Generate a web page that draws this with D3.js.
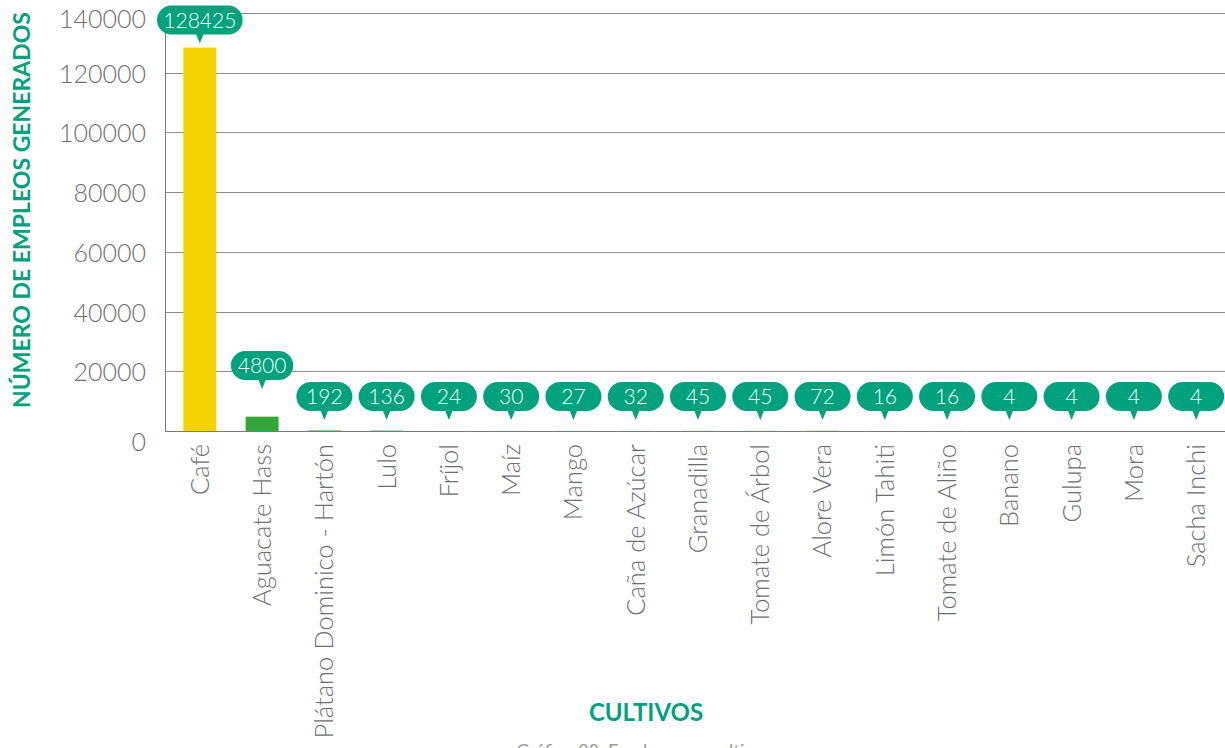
<!DOCTYPE html>
<html>
<head>
<meta charset="utf-8">
<script src="https://cdn.jsdelivr.net/npm/d3@7"></script>
<style>
  html, body { margin: 0; padding: 0; background: #fff; }
  svg { display: block; font-family: Lato, "Open Sans", sans-serif; }
</style>
</head>
<body>
<svg id="chart" width="1225" height="748"></svg>
<script>
// Empleos generados por cultivo
const cultivos = ["Café", "Aguacate Hass", "Plátano Dominico - Hartón", "Lulo", "Fríjol", "Maíz", "Mango",
  "Caña de Azúcar", "Granadilla", "Tomate de Árbol", "Alore Vera", "Limón Tahiti", "Tomate de Aliño",
  "Banano", "Gulupa", "Mora", "Sacha Inchi"];
const empleos = [128425, 4800, 192, 136, 24, 30, 27, 32, 45, 45, 72, 16, 16, 4, 4, 4, 4];
const yTicks = [0, 20000, 40000, 60000, 80000, 100000, 120000, 140000];

const yellow = "#f6d300";
const green = "#33a83a";
const teal = "#00a27e";
const gray = "#6d6e70";

const svg = d3.select("#chart");
const plot = { left: 165, right: 1227, top: 13, bottom: 431 };

const x = d3.scaleBand().domain(cultivos).range([plot.left + 4, plot.right]).paddingInner(0.47).paddingOuter(0.23);
const y = d3.scaleLinear().domain([0, 140000]).range([plot.bottom, plot.top]);

// horizontal gridlines
svg.append("g").selectAll("line").data(yTicks.slice(1)).join("line")
  .attr("x1", plot.left).attr("x2", 1225)
  .attr("y1", d => Math.round(y(d)) + 0.5).attr("y2", d => Math.round(y(d)) + 0.5)
  .attr("stroke", "#8c8c8c").attr("stroke-width", 1);

// y tick labels (end labels nudged inward so they clear the frame)
svg.append("g").selectAll("text").data(yTicks).join("text")
  .attr("x", 146)
  .attr("y", (d, i) => y(d) + (i === 0 ? 11 : i === yTicks.length - 1 ? 6 : 1))
  .attr("dy", "0.36em").attr("text-anchor", "end")
  .attr("font-size", 25).attr("font-weight", 300).attr("fill", gray)
  .text(d => d);

// bars
svg.append("g").selectAll("rect").data(empleos).join("rect")
  .attr("x", (d, i) => x(cultivos[i]))
  .attr("width", x.bandwidth())
  .attr("y", d => y(d))
  .attr("height", d => y(0) - y(d))
  .attr("fill", (d, i) => i === 0 ? yellow : green);

// axis lines
svg.append("line").attr("x1", plot.left + 0.5).attr("x2", plot.left + 0.5)
  .attr("y1", plot.top).attr("y2", plot.bottom + 0.5).attr("stroke", "#7a7a7a");
svg.append("line").attr("x1", plot.left).attr("x2", 1225)
  .attr("y1", plot.bottom + 0.5).attr("y2", plot.bottom + 0.5).attr("stroke", "#7a7a7a");

// category labels
svg.append("g").selectAll("text").data(cultivos).join("text")
  .attr("transform", d => `translate(${x(d) + x.bandwidth() / 2},444) rotate(-90)`)
  .attr("dy", "0.35em").attr("text-anchor", "end")
  .attr("font-size", 25.5).attr("font-weight", 300).attr("fill", gray)
  .text(d => d);

// value callouts: pill with a pointer, lifted when it would collide with its neighbour
const pillH = 29, tipH = 9, minW = 56;
const labels = empleos.map((v, i) => {
  const cx = x(cultivos[i]) + x.bandwidth() / 2;
  const txt = String(v);
  const w = Math.max(minW, txt.length * 11.6 + 16);
  const tip = Math.min(y(v) - 4, y(0) - 11);
  return { cx, txt, w, tip };
});
for (let i = labels.length - 2; i >= 0; i--) {
  const a = labels[i], b = labels[i + 1];
  const gapX = (b.cx - b.w / 2) - (a.cx + a.w / 2);
  const aTop = a.tip - tipH - pillH, bTop = b.tip - tipH - pillH;
  if (gapX < 4 && aTop < bTop + pillH && bTop < aTop + pillH) {
    a.tip = bTop - 2 + tipH;
  }
}
const lg = svg.append("g").selectAll("g").data(labels).join("g");
lg.append("rect")
  .attr("x", d => d.cx - d.w / 2).attr("y", d => d.tip - tipH - pillH)
  .attr("width", d => d.w).attr("height", pillH)
  .attr("rx", pillH / 2).attr("fill", teal);
lg.append("path")
  .attr("d", d => `M${d.cx - 4},${d.tip - tipH - 1}L${d.cx + 4},${d.tip - tipH - 1}L${d.cx},${d.tip}Z`)
  .attr("fill", teal);
lg.append("text")
  .attr("x", d => d.cx).attr("y", d => d.tip - tipH - pillH / 2)
  .attr("dy", "0.36em").attr("text-anchor", "middle")
  .attr("font-size", 21).attr("font-weight", 300).attr("fill", "#fff")
  .text(d => d.txt);

// axis titles
svg.append("text")
  .attr("transform", "translate(22,210) rotate(-90)")
  .attr("dy", "0.35em").attr("text-anchor", "middle")
  .attr("font-size", 23).attr("font-weight", "bold").attr("fill", teal)
  .text("NÚMERO DE EMPLEOS GENERADOS");
svg.append("text")
  .attr("x", 646).attr("y", 721).attr("text-anchor", "middle")
  .attr("font-size", 24).attr("font-weight", "bold").attr("fill", teal)
  .text("CULTIVOS");

// caption
svg.append("text")
  .attr("x", 640).attr("y", 757).attr("text-anchor", "middle")
  .attr("font-size", 18).attr("fill", "#9a9a9a")
  .text("Gráfico 33. Empleos por cultivo");
</script>
</body>
</html>
